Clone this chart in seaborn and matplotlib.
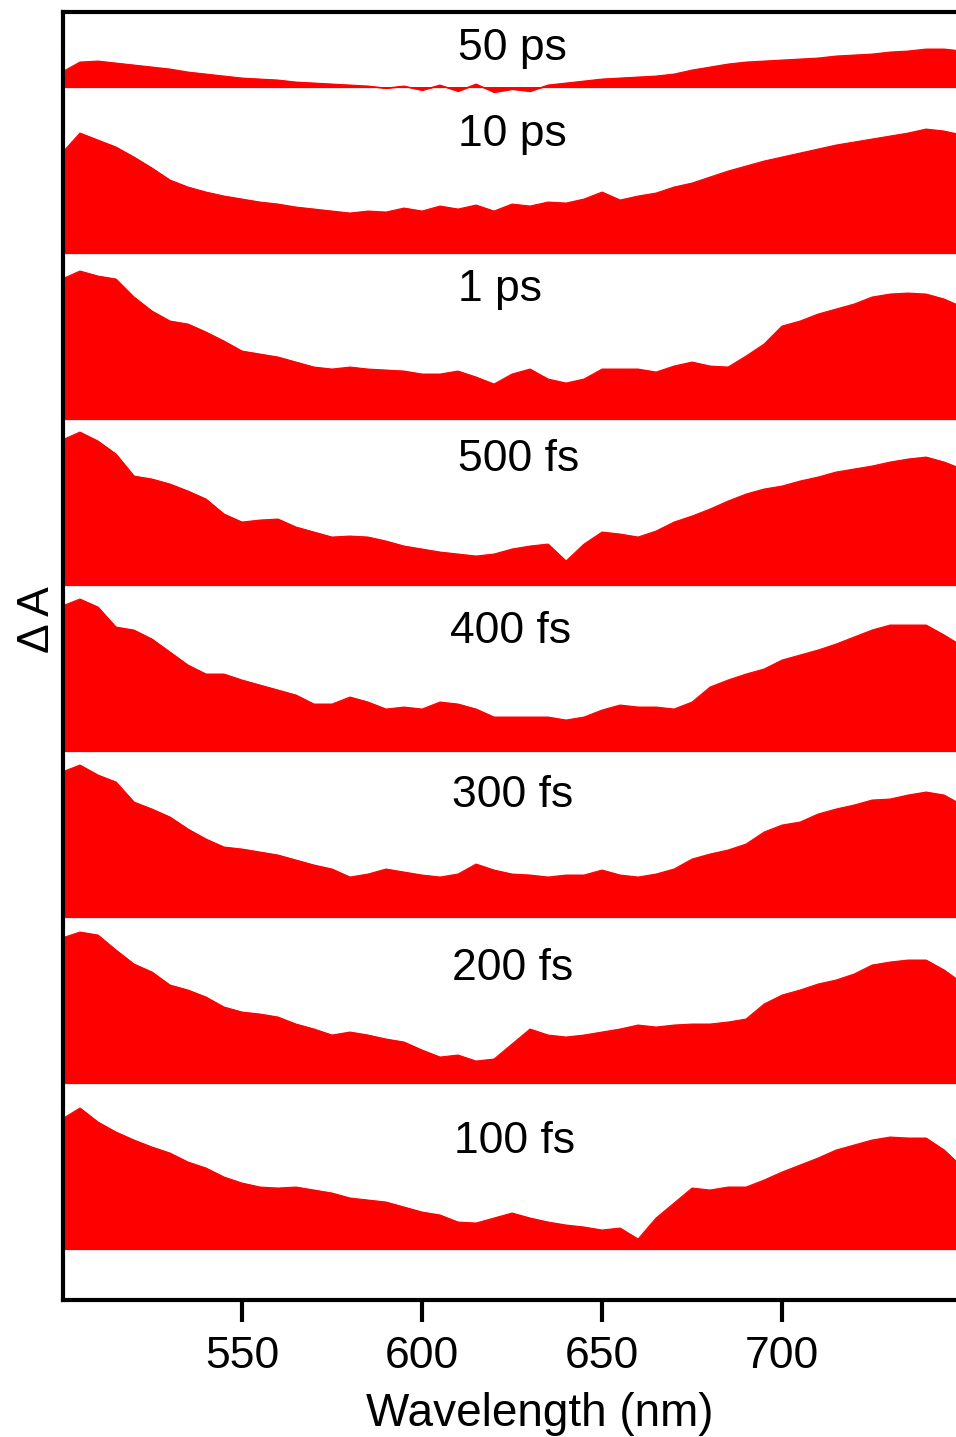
import numpy as np
import pandas as pd
import matplotlib
matplotlib.use("Agg")
import matplotlib.pyplot as plt
import seaborn as sns

# probe wavelengths (nm)
wavelengths = np.arange(500, 751, 5)

delays = ["100 fs", "200 fs", "300 fs", "400 fs", "500 fs", "1 ps", "10 ps", "50 ps"]

# transient absorption, arbitrary units
dA_100fs = [130, 141, 127, 117, 109, 102, 96, 87, 81, 72, 66, 62, 61, 62, 59, 56, 51,
            49, 47, 42, 37, 34, 27, 26, 31, 36, 31, 27, 24, 22, 19, 21, 10, 31, 46, 61,
            59, 62, 62, 69, 77, 84, 91, 99, 104, 109, 112, 111, 111, 99, 82]
dA_200fs = [145, 151, 148, 133, 119, 111, 98, 93, 86, 76, 71, 69, 66, 59, 54, 48, 51,
            48, 44, 41, 33, 26, 28, 22, 24, 39, 54, 48, 46, 48, 51, 54, 58, 56, 58, 59,
            59, 61, 64, 79, 88, 93, 99, 103, 109, 118, 121, 123, 123, 113, 100]
dA_300fs = [145, 152, 142, 135, 115, 108, 100, 88, 78, 70, 68, 65, 62, 57, 52, 48, 40,
            43, 48, 45, 42, 40, 43, 53, 47, 43, 42, 40, 42, 42, 47, 42, 40, 43, 48, 58,
            63, 67, 73, 85, 92, 95, 103, 108, 112, 117, 118, 122, 125, 122, 112]
dA_400fs = [145, 152, 144, 124, 121, 112, 99, 86, 77, 77, 71, 66, 61, 56, 47, 47, 54,
            49, 42, 44, 42, 49, 47, 42, 34, 34, 34, 34, 31, 34, 41, 46, 44, 44, 42, 49,
            64, 71, 77, 82, 91, 96, 101, 107, 114, 121, 126, 126, 126, 116, 105]
dA_500fs = [145, 153, 144, 131, 109, 106, 101, 94, 86, 71, 63, 65, 66, 58, 53, 48, 49,
            48, 44, 39, 36, 33, 31, 29, 31, 36, 39, 41, 24, 41, 53, 51, 48, 54, 63, 69,
            76, 84, 91, 96, 99, 104, 108, 113, 116, 119, 123, 126, 128, 123, 116]
dA_1ps = [140, 148, 143, 140, 122, 108, 98, 95, 87, 78, 68, 65, 62, 57, 52, 50, 52,
          50, 49, 48, 45, 45, 48, 42, 35, 45, 50, 40, 36, 40, 50, 50, 50, 47, 53, 57,
          53, 52, 63, 75, 93, 98, 105, 110, 115, 122, 125, 126, 125, 120, 112]
dA_10ps = [100, 120, 113, 106, 96, 85, 73, 66, 61, 57, 54, 51, 49, 46, 44, 42, 40,
           42, 41, 45, 42, 47, 44, 48, 42, 49, 47, 51, 50, 54, 61, 53, 57, 60, 66, 70,
           76, 82, 87, 92, 96, 100, 104, 108, 111, 114, 117, 120, 124, 122, 118]
dA_50ps = [15, 25, 26, 24, 22, 20, 18, 15, 13, 11, 9, 8, 7, 5, 4, 3, 2,
           1, -1, 1, -3, 2, -4, 3, -5, -2, -4, 2, 4, 6, 8, 9, 10, 11, 13, 17,
           20, 23, 25, 26, 27, 28, 29, 31, 32, 33, 35, 36, 38, 38, 36]

spectra = [dA_100fs, dA_200fs, dA_300fs, dA_400fs, dA_500fs, dA_1ps, dA_10ps, dA_50ps]

# layout
step = 166
label_x = [625.6, 625.3, 625.3, 624.7, 626.7, 621.7, 625.0, 625.0]
label_dy = [96, 103, 110, 108, 114, 118, 107, 27]

frames = []
for i, (name, vals) in enumerate(zip(delays, spectra)):
    frames.append(pd.DataFrame({
        "wavelength": wavelengths,
        "dA": np.asarray(vals, dtype=float),
        "offset": i * step,
        "delay": name,
    }))
df = pd.concat(frames, ignore_index=True)
df["shifted"] = df["dA"] + df["offset"]

sns.set_theme(style="white")
plt.rcParams["font.family"] = ["Liberation Sans", "DejaVu Sans"]
plt.rcParams["text.color"] = "black"
plt.rcParams["axes.labelcolor"] = "black"

fig = plt.figure(figsize=(9.56, 14.37), dpi=100)
ax = fig.add_axes([0.0659, 0.0953, 0.9341, 0.8963])

sns.lineplot(data=df, x="wavelength", y="shifted", hue="delay",
             palette=["#ff0000"] * len(delays), legend=False, lw=0.8, ax=ax)

for i, name in enumerate(delays):
    sub = df[df["delay"] == name]
    ax.fill_between(sub["wavelength"], sub["offset"], sub["shifted"],
                    color="#ff0000", lw=0.8, edgecolor="#ff0000")
    ax.text(label_x[i], i * step + label_dy[i], name, ha="center", va="baseline",
            fontsize=32, color="black")

ax.set_xlim(500.3, 748.3)
ax.set_ylim(-51, 1237)
ax.set_xticks([550, 600, 650, 700])
ax.set_yticks([])
ax.tick_params(axis="x", bottom=True, direction="out", length=16, width=3,
               labelsize=32, pad=10, color="black", labelcolor="black")

for side in ["left", "bottom", "top"]:
    ax.spines[side].set_linewidth(3)
    ax.spines[side].set_color("black")
ax.spines["right"].set_visible(False)

ax.set_xlabel("Wavelength (nm)", fontsize=33, color="black")
ax.xaxis.set_label_coords(0.534, -0.071)
ax.set_ylabel("Δ A", fontsize=32, color="black")
ax.yaxis.set_label_coords(-0.006, 0.528)

fig.savefig("out.png", dpi=100)
